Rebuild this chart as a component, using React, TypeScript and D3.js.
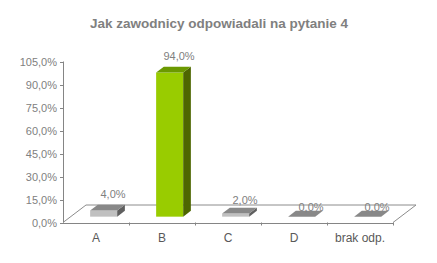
import React from "react";
import * as d3 from "d3";

const title = "Jak zawodnicy odpowiadali na pytanie 4";
const categories = ["A", "B", "C", "D", "brak odp."];
const values = [4, 94, 2, 0, 0];
const valueLabels = ["4,0%", "94,0%", "2,0%", "0,0%", "0,0%"];
const yTicks = [0, 15, 30, 45, 60, 75, 90, 105];
const highlight = [false, true, false, false, false];

const W = 437;
const H = 263;
const x0 = 63;
const x1 = 393;
const yBase = 222.5;
const yTopPx = 61.5;
const DX = 23;
const DY = -17.5;
const font = "'Liberation Sans', Arial, sans-serif";

export default function App() {
  const x = d3.scaleBand<string>().domain(categories).range([x0, x1]).paddingInner(0).paddingOuter(0);
  const y = d3.scaleLinear().domain([0, 105]).range([yBase, yTopPx]);
  const bw = x.bandwidth();
  const barW = bw * 0.41;
  const fx = DX / 3, fy = DY / 3;
  const bx = (2 * DX) / 3, by = (2 * DY) / 3;
  const gray = "#858585";

  const fmtTick = (v: number) => v.toFixed(1).replace(".", ",") + "%";
  const boundaries = categories.map((c) => (x(c) as number) + bw);

  return (
    <svg width={W} height={H} style={{ position: "absolute", left: 0, top: 0, background: "#fff" }}>
      <text x={219} y={27.5} textAnchor="middle" fontFamily={font} fontWeight="bold" fontSize={13.5} fill="#808080">
        {title}
      </text>
      {/* floor */}
      <g stroke="#8c8c8c" strokeWidth={1} fill="none">
        <line x1={x0} y1={yBase} x2={x0 + DX} y2={yBase + DY} />
        <line x1={x0 + DX} y1={yBase + DY} x2={x1 + DX} y2={yBase + DY} />
        <line x1={x1} y1={yBase} x2={x1 + DX} y2={yBase + DY} />
      </g>
      {/* y axis */}
      <line x1={x0 + 0.5} y1={yTopPx} x2={x0 + 0.5} y2={yBase} stroke={gray} />
      {yTicks.map((t) => (
        <g key={t}>
          <line x1={x0 - 3} x2={x0 + 0.5} y1={Math.round(y(t)) + 0.5} y2={Math.round(y(t)) + 0.5} stroke={gray} />
          <text x={57} y={y(t) + 4} textAnchor="end" fontFamily={font} fontSize={11} fill="#808080">
            {fmtTick(t)}
          </text>
        </g>
      ))}
      {/* bars */}
      {categories.map((c, i) => {
        const v = values[i];
        const left = (x(c) as number) + (bw - barW) / 2;
        const fl = left + fx, fr = fl + barW;
        const yt = y(v) + fy, yb = y(0) + fy;
        const ddx = bx - fx, ddy = by - fy;
        const cols = highlight[i]
          ? { front: "#99cc00", top: "#6b9900", side: "#4d6600" }
          : { front: "#c0c0c0", top: "#888888", side: "#5f5f5f" };
        return (
          <g key={c}>
            {v > 0 && <rect x={fl} y={yt} width={barW} height={yb - yt} fill={cols.front} />}
            {v > 0 && (
              <polygon
                points={`${fr},${yt} ${fr + ddx},${yt + ddy} ${fr + ddx},${yb + ddy} ${fr},${yb}`}
                fill={cols.side}
              />
            )}
            <polygon
              points={`${fl},${yt} ${fr},${yt} ${fr + ddx},${yt + ddy} ${fl + ddx},${yt + ddy}`}
              fill={cols.top}
            />
          </g>
        );
      })}
      {/* front axis */}
      <line x1={x0} y1={Math.round(yBase) + 0.5} x2={x1} y2={Math.round(yBase) + 0.5} stroke={gray} />
      {boundaries.map((b, i) => (
        <line key={i} x1={Math.round(b) + 0.5} x2={Math.round(b) + 0.5} y1={yBase} y2={yBase + 3} stroke={gray} />
      ))}
      {categories.map((c) => (
        <text key={c} x={(x(c) as number) + bw / 2} y={242} textAnchor="middle" fontFamily={font} fontSize={12} fill="#595959">
          {c}
        </text>
      ))}
      {/* value labels */}
      {categories.map((c, i) => {
        const v = values[i];
        const cy = y(v) - 16 - (6 * Math.min(v, 4)) / 4;
        return (
          <text key={c} x={(x(c) as number) + bw / 2 + 17} y={cy + 4} textAnchor="middle" fontFamily={font} fontSize={11} fill="#808080">
            {valueLabels[i]}
          </text>
        );
      })}
    </svg>
  );
}
